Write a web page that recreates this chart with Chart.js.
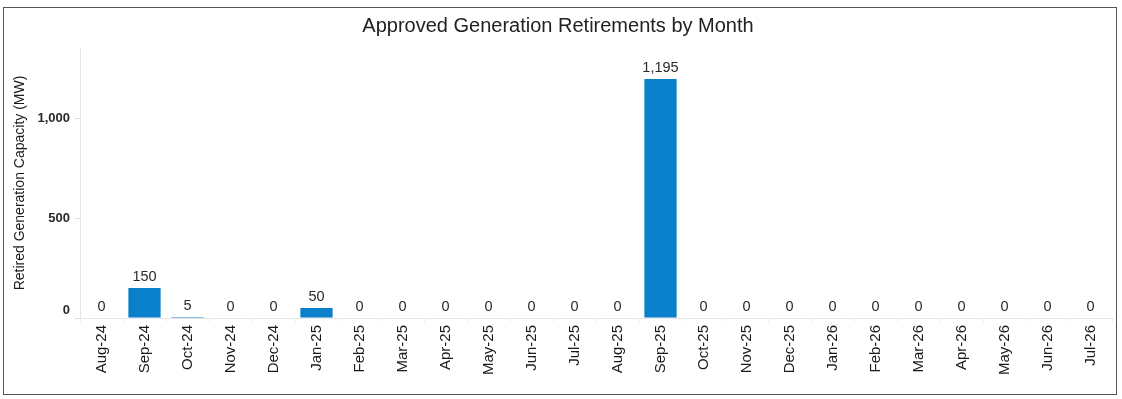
<!DOCTYPE html>
<html><head><meta charset="utf-8">
<script src="https://cdn.jsdelivr.net/npm/chart.js@4"></script>
<style>
html,body{margin:0;padding:0;background:#fff;}
#frame{position:absolute;left:3px;top:7px;width:1112px;height:386px;border:1.5px solid #555;}
#wrap{position:absolute;left:0;top:0;width:1112px;height:386px;}
</style></head>
<body>
<div id="frame"><div id="wrap"><canvas id="c"></canvas></div></div>
<script>
const categories = ["Aug-24","Sep-24","Oct-24","Nov-24","Dec-24","Jan-25","Feb-25","Mar-25","Apr-25","May-25","Jun-25","Jul-25","Aug-25","Sep-25","Oct-25","Nov-25","Dec-25","Jan-26","Feb-26","Mar-26","Apr-26","May-26","Jun-26","Jul-26"];
const retiredMW = [0,150,5,0,0,50,0,0,0,0,0,0,0,1195,0,0,0,0,0,0,0,0,0,0];
const yTicks = [0,500,1000];

const FONT = "'Liberation Sans', Arial, sans-serif";

const valueLabels = {
  id:'valueLabels',
  afterDatasetsDraw(chart){
    const ctx = chart.ctx;
    const meta = chart.getDatasetMeta(0);
    ctx.save();
    ctx.font = "14.5px " + FONT;
    ctx.fillStyle = "#2a2a2a";
    ctx.textAlign = "center";
    ctx.textBaseline = "bottom";
    meta.data.forEach((bar,i)=>{
      const v = retiredMW[i];
      ctx.fillText(v.toLocaleString('en-US'), bar.x, bar.y - 4);
    });
    ctx.restore();
  }
};

new Chart(document.getElementById('c'),{
  type:'bar',
  data:{labels:categories,datasets:[{data:retiredMW,backgroundColor:'#0a7fca',barPercentage:0.75,categoryPercentage:1.0}]},
  options:{
    responsive:true,maintainAspectRatio:false,animation:false,
    layout:{padding:{left:0,right:4,top:0,bottom:0}},
    plugins:{
      legend:{display:false},tooltip:{enabled:false},
      title:{display:true,text:'Approved Generation Retirements by Month',color:'#222',
        font:{family:FONT,size:20,weight:'normal'},padding:{top:6,bottom:10}}
    },
    scales:{
      x:{
        grid:{display:true,drawOnChartArea:false,color:'#eee',tickLength:4},
        border:{display:true,color:'#e6e6e6'},
        ticks:{color:'#1a1a1a',font:{family:FONT,size:15},maxRotation:90,minRotation:90,autoSkip:false,padding:3},
        afterFit(s){s.height=76;}
      },
      y:{
        min:0,max:1350,
        afterBuildTicks(s){s.ticks=yTicks.map(v=>({value:v}));},
        grid:{display:true,drawOnChartArea:false,color:'#ddd',tickLength:5},
        border:{display:true,color:'#e6e6e6'},
        ticks:{color:'#2a2a2a',font:{family:FONT,size:13,weight:'bold'},padding:5,
          callback:v=>v===0?['0','']:v.toLocaleString('en-US')},
        title:{display:true,text:'Retired Generation Capacity (MW)',color:'#1a1a1a',font:{family:FONT,size:14},padding:{top:8,bottom:0}},
        afterFit(s){s.width=76;}
      }
    }
  },
  plugins:[valueLabels]
});
</script>
</body></html>
